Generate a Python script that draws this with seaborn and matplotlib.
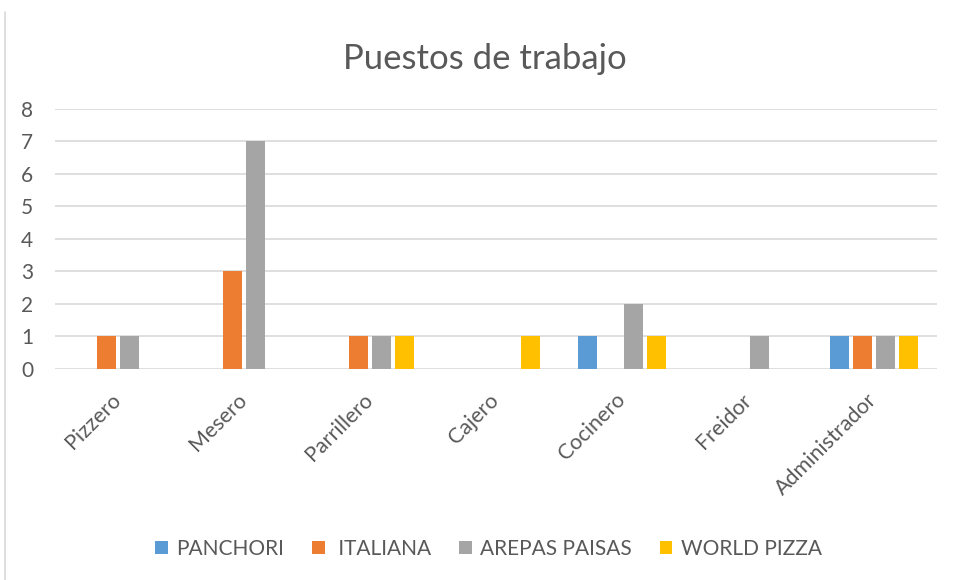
import matplotlib
matplotlib.use("Agg")
import matplotlib.pyplot as plt
from matplotlib.lines import Line2D
from matplotlib.patches import Patch
import seaborn as sns
import pandas as pd

categories = ["Pizzero", "Mesero", "Parrillero", "Cajero", "Cocinero", "Freidor", "Administrador"]
series_names = ["PANCHORI", " ITALIANA", "AREPAS PAISAS", "WORLD PIZZA"]
panchori = [0, 0, 0, 0, 1, 0, 1]
italiana = [1, 3, 1, 0, 0, 0, 1]
arepas = [1, 7, 1, 0, 2, 1, 1]
world_pizza = [0, 0, 1, 1, 1, 0, 1]
colors = ["#5B9BD5", "#ED7D31", "#A5A5A5", "#FFC000"]
yticks = [0, 1, 2, 3, 4, 5, 6, 7, 8]
title = "Puestos de trabajo"

rows = []
for name, vals in zip(series_names, [panchori, italiana, arepas, world_pizza]):
    for c, v in zip(categories, vals):
        rows.append({"Puesto": c, "Empresa": name, "Valor": v})
df = pd.DataFrame(rows)

sns.set_theme(style="white")
plt.rcParams["font.family"] = ["Lato", "DejaVu Sans"]
txt = "#595959"

fig = plt.figure(figsize=(9.56, 5.80), dpi=100)
ax = fig.add_axes([0.0575, 0.3638, 0.9225, 0.4483])

sns.barplot(data=df, x="Puesto", y="Valor", hue="Empresa", order=categories,
            hue_order=series_names, palette=colors, saturation=1, width=0.73, gap=0.2,
            linewidth=0, errorbar=None, ax=ax, legend=False)

ax.set_ylim(0, 8)
ax.set_xlim(-0.5, len(categories) - 0.5)
ax.set_yticks(yticks)
ax.yaxis.grid(True, color="#D9D9D9", linewidth=1.2)
ax.set_axisbelow(True)
for s in ax.spines.values():
    s.set_visible(False)
ax.set_xlabel("")
ax.set_ylabel("")
ax.tick_params(axis="y", length=0, pad=24.5, labelsize=15, labelcolor=txt)
ax.tick_params(axis="x", length=0, pad=20, labelsize=15.5, labelcolor=txt)
for lab in ax.get_yticklabels():
    lab.set_horizontalalignment("left")
for lab in ax.get_xticklabels():
    lab.set_rotation(45)
    lab.set_ha("right")
    lab.set_va("center")
    lab.set_rotation_mode("anchor")

fig.text(0.507, 0.898, title, ha="center", va="center", fontsize=25, color=txt)

handles = [Patch(facecolor=c, edgecolor="none") for c in colors]
fig.legend(handles, series_names, loc="center", bbox_to_anchor=(0.511, 0.054), ncol=4,
           frameon=False, fontsize=15, labelcolor=txt, handlelength=0.6, handleheight=0.6,
           handletextpad=0.4, columnspacing=1.35)

fig.add_artist(Line2D([0.0055, 0.0055], [0.0, 0.98], transform=fig.transFigure,
                      color="#D9D9D9", linewidth=1.2))

fig.savefig("out.png", dpi=100)
